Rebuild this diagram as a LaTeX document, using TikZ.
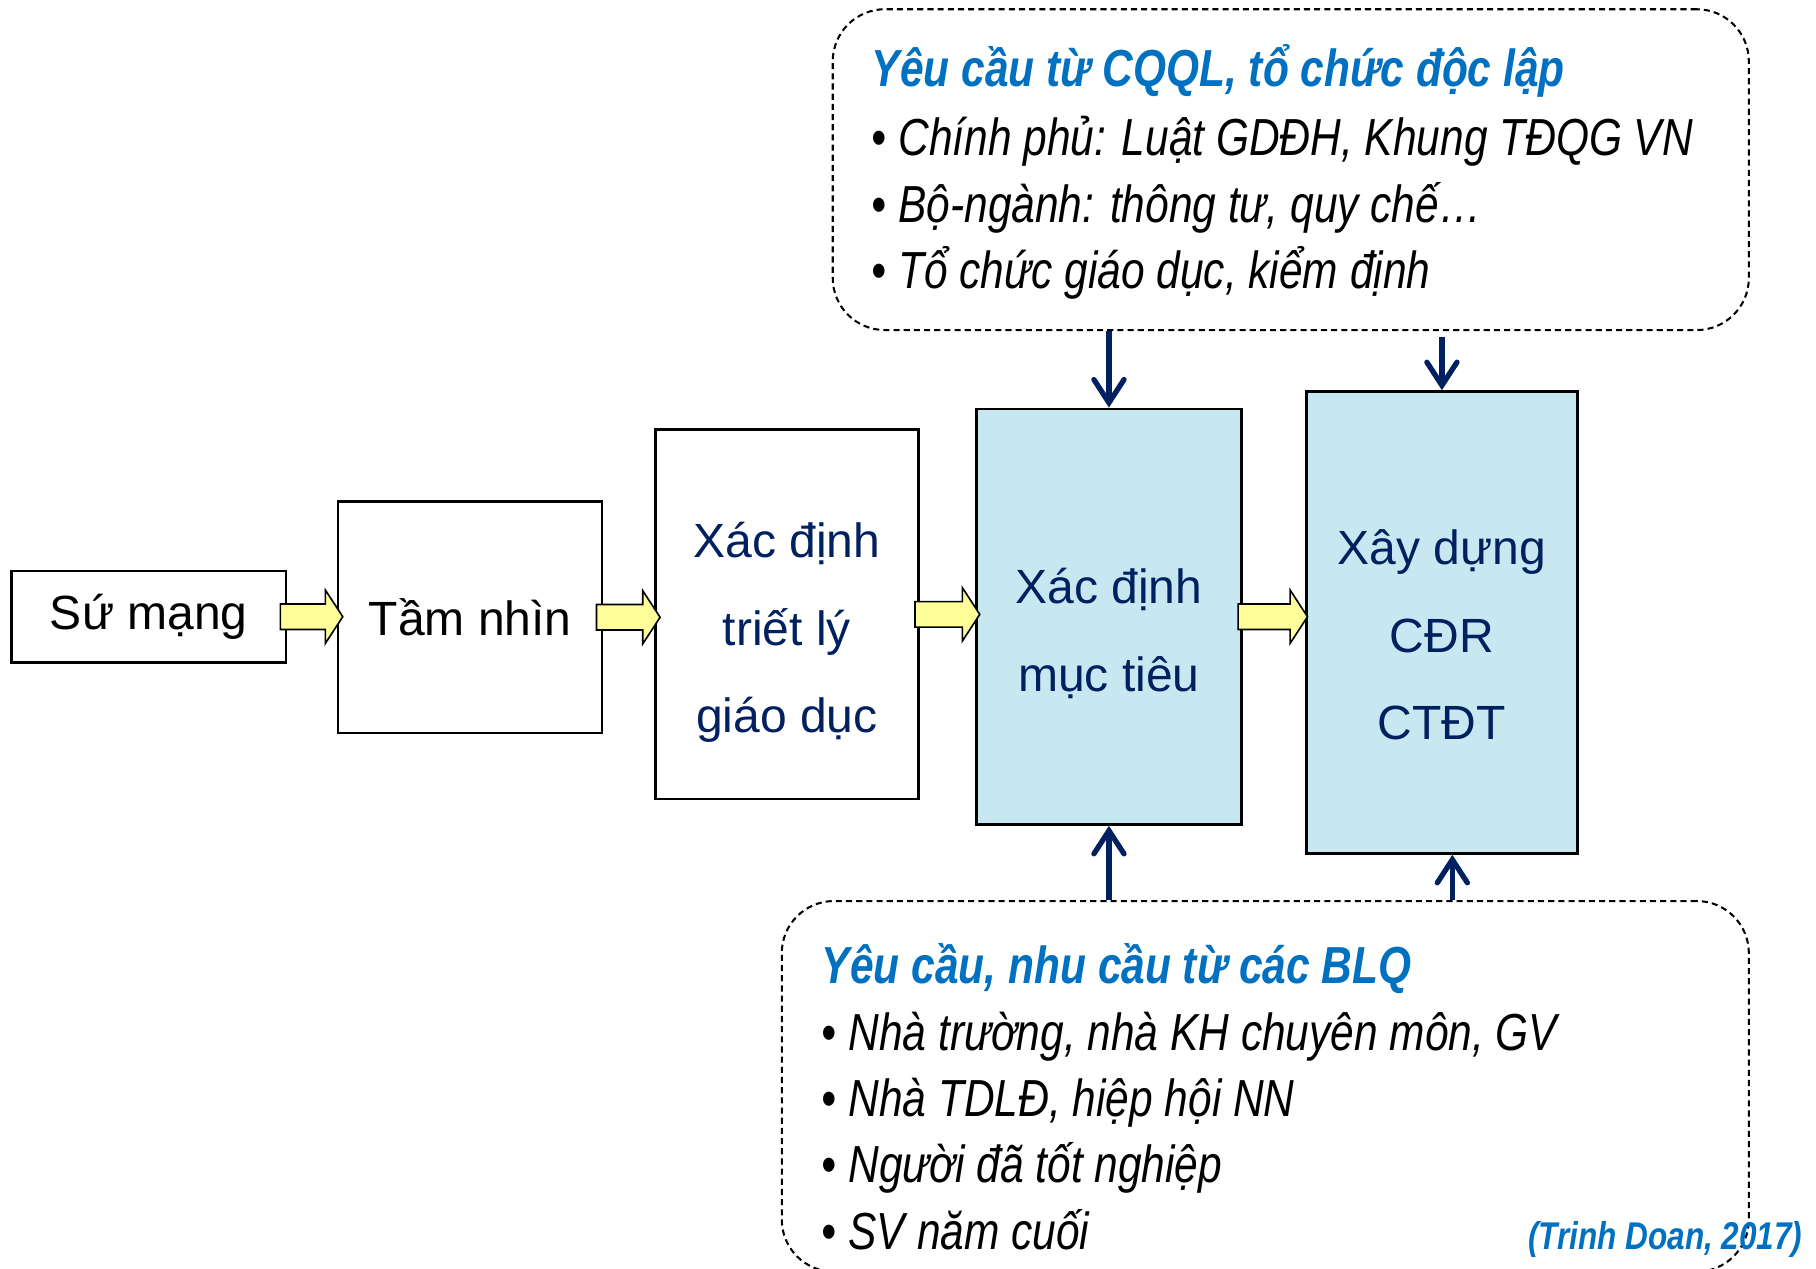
\documentclass[tikz,border=0pt]{standalone}
\usepackage{fontspec}
\setmainfont{Liberation Sans}
\newfontfamily\narrowfont[FakeStretch=0.815]{Liberation Sans}
\usetikzlibrary{arrows.meta,calc}

\definecolor{navy}{RGB}{0,32,96}
\definecolor{titleblue}{RGB}{0,112,192}
\definecolor{lightcyan}{RGB}{200,232,241}
\definecolor{arrowyellow}{RGB}{255,255,153}

\tikzset{
  stage/.style={draw=black, line width=0.6pt, inner sep=0pt, align=center,
    font=\fontsize{11.8}{21.5}\selectfont},
  reqbox/.style={draw=black, line width=0.5pt, dash pattern=on 1.5pt off 1pt,
    rounded corners=0.45cm},
  reqtitle/.style={anchor=base west, inner sep=0pt, text=titleblue,
    font=\narrowfont\bfseries\itshape\fontsize{12.8}{15}\selectfont},
  reqitem/.style={anchor=base west, inner sep=0pt,
    font=\narrowfont\itshape\fontsize{12.8}{15}\selectfont},
  feed/.style={draw=navy, line width=1.3pt, line join=round,
    -{Straight Barb[length=2mm,width=2.6mm,line cap=round]}},
  yarrow/.style={draw=black, line width=0.4pt, fill=arrowyellow,
    to path={let \p1=(\tikztostart), \p2=(\tikztotarget) in
      (\x1,\y1+1.1mm) -- (\x2-1.5mm,\y1+1.1mm) -- (\x2-1.5mm,\y1+2.3mm)
      -- (\x2,\y1) -- (\x2-1.5mm,\y1-2.3mm) -- (\x2-1.5mm,\y1-1.1mm)
      -- (\x1,\y1-1.1mm) -- cycle}}
}

\begin{document}
\begin{tikzpicture}
  \useasboundingbox (0,0) rectangle (15.68,10.95);
  \fill[white] (0,0) rectangle (15.68,10.95);

  % chain of stages
  \node[stage, minimum width=2.37cm, minimum height=0.79cm] (sumang) at (1.285,5.625) {Sứ mạng};
  \node[stage, minimum width=2.28cm, minimum height=2.00cm] (tamnhin) at (4.06,5.62) {Tầm nhìn};
  \node[stage, text=navy, minimum width=2.27cm, minimum height=3.19cm] (trietly) at (6.795,5.645) {\rule{0pt}{17.5pt}Xác định\\triết lý\\giáo dục};
  \node[stage, text=navy, fill=lightcyan, minimum width=2.29cm, minimum height=3.59cm] (muctieu) at (9.575,5.625) {\rule{0pt}{17pt}Xác định\\mục tiêu};
  \node[stage, text=navy, fill=lightcyan, minimum width=2.34cm, minimum height=3.99cm] (xaydung) at (12.45,5.575) {\rule{0pt}{14.7pt}Xây dựng\\CĐR\\CTĐT};

  % requirement boxes
  \node[reqbox, minimum width=7.91cm, minimum height=2.77cm] (reqtop) at (11.145,9.485) {};
  \node[reqbox, minimum width=8.35cm, minimum height=3.20cm] (reqbot) at (10.925,1.57) {};

  \node[reqtitle] (toptitle) at (7.52,10.20) {Yêu cầu từ CQQL, tổ chức độc lập};
  \node[reqitem] (top1) at (7.52,9.61) {• Chính phủ: Luật GDĐH, Khung TĐQG VN};
  \node[reqitem] (top2) at (7.52,9.03) {• Bộ-ngành: thông tư, quy chế…};
  \node[reqitem] (top3) at (7.52,8.46) {• Tổ chức giáo dục, kiểm định};

  \node[reqtitle] (bottitle) at (7.09,2.46) {Yêu cầu, nhu cầu từ các BLQ};
  \node[reqitem] (bot1) at (7.09,1.88) {• Nhà trường, nhà KH chuyên môn, GV};
  \node[reqitem] (bot2) at (7.09,1.31) {• Nhà TDLĐ, hiệp hội NN};
  \node[reqitem] (bot3) at (7.09,0.74) {• Người đã tốt nghiệp};
  \node[reqitem] (bot4) at (7.09,0.16) {• SV năm cuối};
  \node[reqtitle, anchor=base east, font=\narrowfont\bfseries\itshape\fontsize{9.5}{11}\selectfont] (source) at (15.57,0.16) {(Trinh Doan, 2017)};

  % yellow arrows between stages
  \draw[yarrow] ([xshift=-0.06cm]sumang.east) to ([xshift=0.05cm]tamnhin.west);
  \draw[yarrow] ([xshift=-0.06cm]tamnhin.east) to ([xshift=0.05cm]trietly.west);
  \draw[yarrow] ([xshift=-0.04cm]trietly.east) to ([xshift=0.04cm]muctieu.west);
  \draw[yarrow] ([xshift=-0.04cm]muctieu.east) to ([xshift=0.02cm]xaydung.west);

  % requirement arrows
  \coordinate (xdfoot) at ([xshift=0.09cm]xaydung.south);
  \draw[feed] (reqtop.south -| muctieu.north) -- (muctieu.north);
  \draw[feed] ([yshift=-0.05cm]reqtop.south -| xaydung.north) -- (xaydung.north);
  \draw[feed] (reqbot.north -| muctieu.south) -- (muctieu.south);
  \draw[feed] (reqbot.north -| xdfoot) -- (xdfoot);
\end{tikzpicture}
\end{document}
